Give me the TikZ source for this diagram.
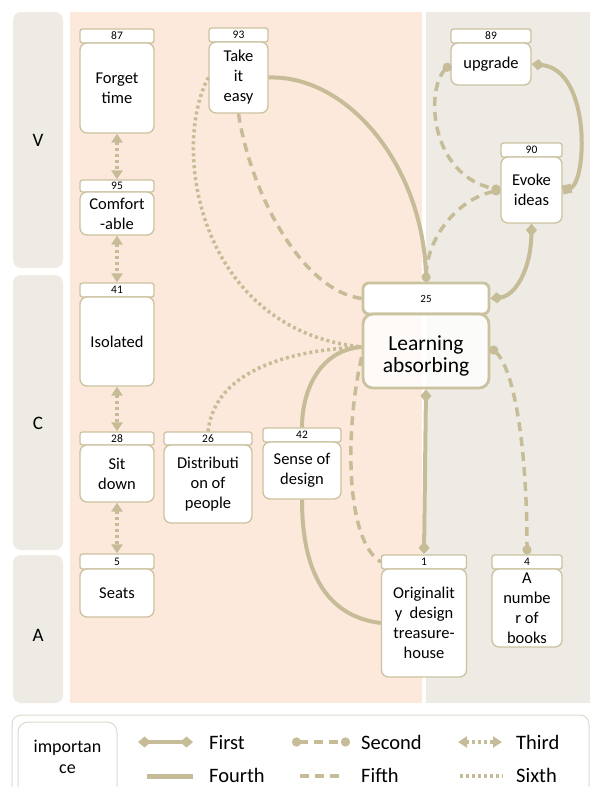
\documentclass[tikz,border=0pt]{standalone}
\usepackage{fontspec}
\setmainfont{Carlito}
\usetikzlibrary{arrows.meta}
\definecolor{pinkbg}{HTML}{FCE9DB}
\definecolor{graybg}{HTML}{EDEBE3}
\definecolor{tanc}{HTML}{C6BD98}
\definecolor{nodeb}{HTML}{CBC2A0}
\definecolor{legb}{HTML}{DEDAD0}
\tikzset{
 hdr/.style={draw=nodeb, fill=white, line width=1.3pt, rounded corners=2.5pt, inner sep=0pt, font=\fontsize{11.5}{12}\selectfont},
 jar/.style={draw=nodeb, fill=white, line width=1.3pt, rounded corners=7pt, inner sep=0pt, align=center, font=\fontsize{16.5}{20}\selectfont},
 bandlbl/.style={font=\fontsize{19}{20}\selectfont},
 legtext/.style={anchor=base west, inner sep=0pt, font=\fontsize{20.5}{22}\selectfont},
 fourth/.style={draw=tanc, line width=4pt},
 first/.style={fourth, {Diamond[length=13pt,width=11pt]}-{Diamond[length=13pt,width=11pt]}},
 fifth/.style={draw=tanc, line width=3.5pt, dash pattern=on 9pt off 6pt},
 second/.style={fifth, {Circle[length=9pt]}-{Circle[length=9pt]}},
 sixth/.style={draw=tanc, line width=3.5pt, dash pattern=on 3pt off 3pt},
 third/.style={sixth, {Triangle[length=9pt,width=11pt]}-{Triangle[length=9pt,width=11pt]}},
}
\begin{document}
\begin{tikzpicture}[x=1pt,y=-1pt]
\useasboundingbox (0,0) rectangle (590,787);
% backgrounds
\fill[graybg, rounded corners=8pt] (13,12) rectangle (63,268);
\fill[graybg, rounded corners=8pt] (13,275) rectangle (63,550);
\fill[graybg, rounded corners=8pt] (13,555) rectangle (63,703);
\fill[pinkbg] (70,12) rectangle (422,703);
\fill[graybg] (426,12) rectangle (590,703);
\node[bandlbl] (lv) at (38,140) {V};
\node[bandlbl] (lc) at (38,423) {C};
\node[bandlbl] (la2) at (38,635) {A};
% nodes
\node[hdr, minimum width=74pt, minimum height=14pt] (fth) at (117,36) {87};
\node[jar, minimum width=74pt, minimum height=90pt] (ft) at (117,88) {Forget\\time};
\node[hdr, minimum width=74pt, minimum height=12pt] (cfh) at (117,186) {95};
\node[jar, minimum width=74pt, minimum height=43pt] (cf) at (117,213.5) {Comfort\\-able};
\node[hdr, minimum width=74pt, minimum height=14pt] (isoh) at (117,290) {41};
\node[jar, minimum width=74pt, minimum height=89pt] (iso) at (117,341.5) {Isolated};
\node[hdr, minimum width=74pt, minimum height=13pt] (sdh) at (117,438.5) {28};
\node[jar, minimum width=74pt, minimum height=57pt] (sd) at (117,473.5) {Sit\\down};
\node[hdr, minimum width=88pt, minimum height=13pt] (dph) at (208,438.5) {26};
\node[jar, minimum width=88pt, minimum height=78pt] (dp) at (208,484) {Distributi\\on of\\people};
\node[hdr, minimum width=78pt, minimum height=14pt] (sodh) at (302,435) {42};
\node[jar, minimum width=78pt, minimum height=57pt] (sod) at (302,470.5) {Sense of\\design};
\node[hdr, minimum width=74pt, minimum height=15pt] (seatsh) at (117,561.5) {5};
\node[jar, minimum width=74pt, minimum height=48pt] (seats) at (117,593) {Seats};
\node[hdr, minimum width=85pt, minimum height=14pt] (origh) at (424,562) {1};
\node[jar, minimum width=85pt, minimum height=108pt] (orig) at (424,623) {Originalit\\y \ design\\treasure-\\house};
\node[hdr, minimum width=70pt, minimum height=14pt] (booksh) at (527,562) {4};
\node[jar, minimum width=70pt, minimum height=78pt] (books) at (527,608) {A\\numbe\\r of\\books};
\node[hdr, minimum width=59pt, minimum height=14pt] (tieh) at (238.5,35) {93};
\node[jar, minimum width=59pt, minimum height=71pt] (tie) at (238.5,77.5) {Take\\it\\easy};
\node[hdr, minimum width=80pt, minimum height=14pt] (uph) at (491,36) {89};
\node[jar, minimum width=80pt, minimum height=42pt] (up) at (491,64) {upgrade};
\node[hdr, minimum width=61pt, minimum height=14pt] (evh) at (531.5,150) {90};
\node[jar, minimum width=61pt, minimum height=66pt] (ev) at (531.5,190) {Evoke\\ideas};
\node[hdr, line width=2.8pt, rounded corners=6pt, minimum width=126pt, minimum height=31pt, font=\fontsize{11}{12}\selectfont] (lah) at (426,298.5) {25};
\node[jar, line width=2.8pt, rounded corners=10pt, fill opacity=0.8, minimum width=126pt, minimum height=74pt] (la) at (426,351) {};
\node[align=center, font=\fontsize{21.5}{22.5}\selectfont] (latext) at (426,356) {Learning\\absorbing};
% connectors
\draw[third] (ft) -- (cfh);
\draw[third] (cf) -- (isoh);
\draw[third] (iso) -- (sdh);
\draw[third] (sd) -- (seatsh);
\draw[fourth] (tie.east) .. controls (350,75) and (426,170) .. (lah.north);
\draw[second] (ev.west) .. controls (455,200) and (427,240) .. (lah.north);
\draw[second] (up.west) .. controls (425,90) and (430,175) .. (ev.west);
\draw[fourth, {Diamond[length=13pt,width=11pt]}-{Square[length=9pt,width=9pt]}] (up.east) .. controls (592,70) and (587,185) .. (ev.east);
\draw[first] (ev.south) .. controls (531,270) and (515,296) .. (lah.east);
\draw[fifth] (tie.south) .. controls (250,190) and (300,290) .. (lah.west);
\draw[sixth] (tie.west) .. controls (170,150) and (200,330) .. ([yshift=4pt]la.west);
\draw[sixth] (dph.north) .. controls (215,370) and (290,350) .. ([yshift=4pt]la.west);
\draw[fourth] ([yshift=4pt]la.west) .. controls (320,350) and (302,390) .. (sodh.north);
\draw[fourth] (sod.south) .. controls (302,590) and (340,618) .. (orig.west);
\draw[fifth] ([yshift=-6pt]la.west) .. controls (345,430) and (345,540) .. (origh.west);
\draw[first] (la.south) -- (origh.north);
\draw[second] ([yshift=4pt]la.east) .. controls (515,370) and (527,450) .. (booksh.north);
% legend
\draw[legb, line width=1pt, rounded corners=9pt, fill=white] (12,715) rectangle (589,805);
\node[draw=legb, line width=1pt, rounded corners=10pt, minimum width=99pt, minimum height=80pt] (impbox) at (67.5,762) {};
\node[align=center, font=\fontsize{18}{21}\selectfont] (imp) at (67.5,757) {importan\\ce};
\coordinate (l1a) at (138,742); \coordinate (l1b) at (193,742);
\coordinate (l2a) at (292,742); \coordinate (l2b) at (350,742);
\coordinate (l3a) at (458,742); \coordinate (l3b) at (502,742);
\coordinate (l4a) at (147,776); \coordinate (l4b) at (193,776);
\coordinate (l5a) at (300,776); \coordinate (l5b) at (343,776);
\coordinate (l6a) at (460,776); \coordinate (l6b) at (503,776);
\draw[first] (l1a) -- (l1b);
\draw[second] (l2a) -- (l2b);
\draw[third] (l3a) -- (l3b);
\draw[fourth, line width=5pt] (l4a) -- (l4b);
\draw[fifth] (l5a) -- (l5b);
\draw[sixth] (l6a) -- (l6b);
\node[legtext] (t1) at (209,749) {First};
\node[legtext] (t2) at (361,749) {Second};
\node[legtext] (t3) at (516,749) {Third};
\node[legtext] (t4) at (209,782) {Fourth};
\node[legtext] (t5) at (361,782) {Fifth};
\node[legtext] (t6) at (516,782) {Sixth};
\end{tikzpicture}
\end{document}
